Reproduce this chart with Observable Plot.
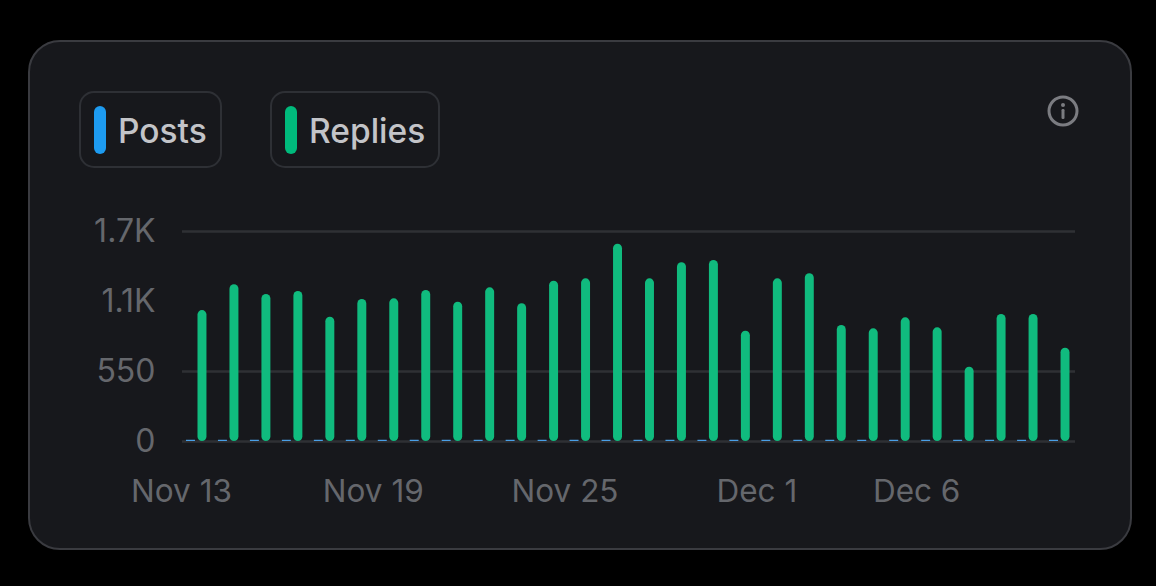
<!DOCTYPE html>
<html>
<head>
<meta charset="utf-8">
<script src="https://cdn.jsdelivr.net/npm/d3@7"></script>
<script src="https://cdn.jsdelivr.net/npm/@observablehq/plot@0.6"></script>
<style>
  html, body { margin: 0; padding: 0; background: #000; width: 1156px; height: 586px; overflow: hidden; }
  #card { position: absolute; left: 28px; top: 40px; width: 1100px; height: 506px; background: #17181c; border: 2px solid #3a3b40; border-radius: 32px; }
  .chip { position: absolute; top: 91px; height: 73px; border: 2.5px solid #2e3035; border-radius: 15px; box-sizing: content-box;
          font: 500 33.5px/73px Inter, "Noto Sans", sans-serif; color: #c3c4c8; white-space: nowrap; }
  .chip i { position: absolute; left: 13px; top: 13px; width: 12px; height: 48px; border-radius: 6px; }
  .chip span { position: absolute; left: 37px; top: 2px; }
  #info { position: absolute; left: 1046px; top: 94px; }
  #chart { position: absolute; left: 0; top: 0; }
</style>
</head>
<body>
<div id="card"></div>
<div class="chip" style="left:79px;width:139px"><i style="background:#1d9bf0"></i><span>Posts</span></div>
<div class="chip" style="left:270px;width:166px"><i style="background:#00ba7c"></i><span>Replies</span></div>
<svg id="info" width="34" height="34" viewBox="0 0 34 34">
  <circle cx="17" cy="17" r="14" fill="none" stroke="#7b7c81" stroke-width="3"/>
  <circle cx="17" cy="11" r="2" fill="#7b7c81"/>
  <rect x="15.5" y="15" width="3" height="10" rx="1.2" fill="#7b7c81"/>
</svg>
<div id="chart"></div>
<script>
const days = ["Nov 13","Nov 14","Nov 15","Nov 16","Nov 17","Nov 18","Nov 19","Nov 20","Nov 21","Nov 22","Nov 23","Nov 24","Nov 25","Nov 26","Nov 27","Nov 28","Nov 29","Nov 30","Dec 1","Dec 2","Dec 3","Dec 4","Dec 5","Dec 6","Dec 7","Dec 8","Dec 9","Dec 10"];
const replies = [1060,1269,1190,1214,1006,1150,1155,1222,1128,1244,1115,1298,1317,1597,1317,1447,1465,893,1317,1358,939,912,1001,920,602,1028,1028,755];
const posts = [10,10,10,10,10,10,10,10,10,10,10,10,10,10,10,10,10,10,10,10,10,10,10,10,10,10,10,10];
const xTicks = ["Nov 13","Nov 19","Nov 25","Dec 1","Dec 6"];
const yTicks = [0,567,1133,1700];
const yLabels = ["0","550","1.1K","1.7K"];
const gridLines = [0,567,1700];

const table = days.map((day, i) => ({day, reply: replies[i], post: posts[i]}));

const chart = Plot.plot({
  width: 1156, height: 586,
  marginLeft: 182, marginRight: 81, marginTop: 231, marginBottom: 145,
  style: {background: "transparent", fontFamily: "Inter, 'Liberation Sans', Arial, sans-serif"},
  x: {type: "band", domain: days, range: [186, 1081], padding: 0, round: false},
  y: {domain: [0, 1700], range: [441, 231]},
  marks: [
    Plot.ruleY(gridLines, {stroke: "#2f3034", strokeWidth: 2.5}),
    Plot.barY(table, {x: "day", y: "post", fill: "#4a9fe6", insetLeft: 11.5, insetRight: 11.5, dx: -11.5}),
    Plot.barY(table, {x: "day", y: "reply", fill: "#10bb7e", insetLeft: 11.5, insetRight: 11.5, rx: 4.5}),
    Plot.axisX({ticks: xTicks, tickSize: 0, tickPadding: 38, dx: -21, fontSize: 31.5, fontVariant: "normal", fill: "#65676c", label: null}),
    Plot.axisY({ticks: yTicks, tickFormat: v => yLabels[yTicks.indexOf(v)], tickSize: 0, tickPadding: 27, fontSize: 32, fontVariant: "normal", fill: "#65676c", label: null})
  ]
});
document.getElementById("chart").appendChild(chart);
</script>
</body>
</html>
